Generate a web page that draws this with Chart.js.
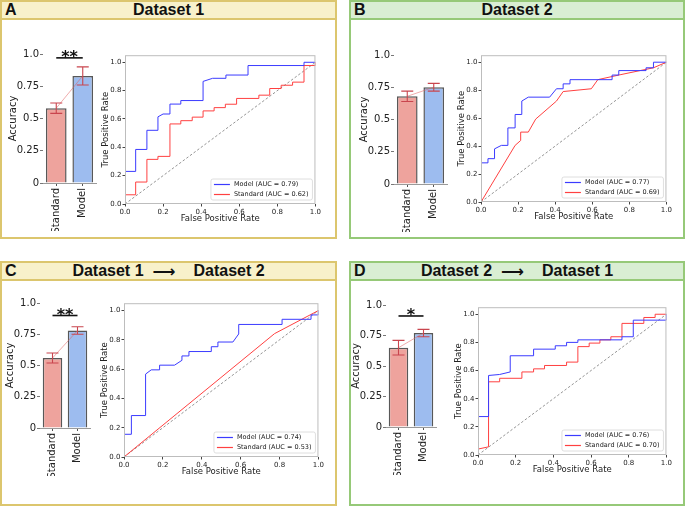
<!DOCTYPE html>
<html>
<head>
<meta charset="utf-8">
<script src="https://cdn.jsdelivr.net/npm/chart.js@4.4.0/dist/chart.umd.min.js"></script>
<style>
  body{margin:0;width:685px;height:508px;position:relative;background:#fff;overflow:hidden;font-family:"DejaVu Sans",sans-serif}
  .panel{position:absolute;box-sizing:border-box;border:2px solid}
  .yellow{border-color:#dcc66e}
  .yellow .head{background:#f8f1cb;border-bottom:2px solid #dcc66e}
  .green{border-color:#96c978}
  .green .head{background:#d9eed3;border-bottom:2px solid #96c978}
  .head{height:16px;position:relative;font:bold 16px "Liberation Sans",Arial,sans-serif;color:#111}
  .letter{position:absolute;left:3px;top:-1px;line-height:18px}
  .title{display:flex;justify-content:center;align-items:center;height:16px;line-height:16px}
  .arrow{font:bold 16px "DejaVu Sans",sans-serif;margin:0 18px 0 9px}
  canvas{position:absolute}
</style>
</head>
<body>
<div class="panel yellow" style="left:0;top:0;width:337px;height:239px">
  <div class="head"><span class="letter">A</span><div class="title">Dataset 1</div></div>
</div>
<div class="panel green" style="left:349px;top:0;width:336px;height:239px">
  <div class="head"><span class="letter">B</span><div class="title">Dataset 2</div></div>
</div>
<div class="panel yellow" style="left:0;top:261px;width:337px;height:245px">
  <div class="head"><span class="letter">C</span><div class="title"><span>Dataset 1</span><span class="arrow">⟶</span><span>Dataset 2</span></div></div>
</div>
<div class="panel green" style="left:349px;top:261px;width:336px;height:245px">
  <div class="head"><span class="letter">D</span><div class="title"><span>Dataset 2</span><span class="arrow">⟶</span><span>Dataset 1</span></div></div>
</div>

<script>
// Catégories et graduations
const categories = ['Standard', 'Model'];
const accTicks = [0, 0.25, 0.5, 0.75, 1.0];
const accTickLabels = ['0', '0.25', '0.5', '0.75', '1.0'];
const rocTicks = [0, 0.2, 0.4, 0.6, 0.8, 1.0];

// Précision (moyenne, bas et haut des barres d'erreur)
const accA = [0.58, 0.83], lowA = [0.54, 0.76], highA = [0.62, 0.90];
const accB = [0.68, 0.75], lowB = [0.64, 0.72], highB = [0.72, 0.78];
const accC = [0.56, 0.78], lowC = [0.52, 0.75], highC = [0.60, 0.81];
const accD = [0.65, 0.77], lowD = [0.59, 0.74], highD = [0.71, 0.80];

// AUC affichées dans les légendes
const aucA = ['0.79', '0.62'];
const aucB = ['0.77', '0.69'];
const aucC = ['0.74', '0.53'];
const aucD = ['0.76', '0.70'];

// Courbes ROC (coins des paliers)
const fprA_m = [0,0,0.056,0.056,0.115,0.115,0.173,0.173,0.2,0.236,0.236,0.293,0.293,0.41,0.41,0.46,0.53,0.53,0.646,0.646,0.94,0.94,1];
const tprA_m = [0,0.23,0.23,0.385,0.385,0.52,0.52,0.615,0.635,0.635,0.705,0.705,0.73,0.73,0.865,0.887,0.887,0.91,0.91,0.977,0.977,1,1];
const fprA_s = [0,0,0.056,0.056,0.115,0.115,0.173,0.173,0.236,0.236,0.293,0.293,0.353,0.353,0.41,0.41,0.468,0.468,0.527,0.527,0.586,0.586,0.703,0.703,0.76,0.76,0.82,0.82,0.88,0.88,0.94,0.94,1,1];
const tprA_s = [0,0.065,0.065,0.155,0.155,0.315,0.315,0.336,0.336,0.565,0.565,0.588,0.588,0.613,0.613,0.657,0.657,0.68,0.68,0.704,0.704,0.745,0.745,0.768,0.768,0.815,0.815,0.838,0.838,0.86,0.86,0.977,0.977,1];

const fprB_m = [0,0,0.0375,0.0375,0.073,0.073,0.11,0.145,0.145,0.184,0.184,0.22,0.22,0.255,0.37,0.407,0.443,0.443,0.48,0.48,0.707,0.707,0.743,0.743,0.89,0.89,0.93,0.93,1];
const tprB_m = [0,0.28,0.28,0.31,0.31,0.38,0.405,0.405,0.53,0.53,0.626,0.626,0.722,0.75,0.75,0.81,0.81,0.845,0.845,0.875,0.875,0.908,0.908,0.94,0.94,0.96,0.96,1,1];
const fprB_s = [0,0.184,0.214,0.214,0.255,0.295,0.407,0.443,0.595,0.63,0.75,0.93,1];
const tprB_s = [0,0.405,0.44,0.5,0.5,0.593,0.722,0.79,0.81,0.875,0.91,0.96,1];

const fprC_m = [0,0,0.038,0.038,0.111,0.111,0.14,0.183,0.183,0.26,0.298,0.298,0.334,0.334,0.449,0.449,0.483,0.483,0.56,0.59,0.59,0.813,0.813,0.962,0.962,1,1];
const tprC_m = [0,0.155,0.155,0.283,0.283,0.566,0.595,0.595,0.627,0.627,0.66,0.69,0.69,0.72,0.72,0.753,0.753,0.785,0.785,0.84,0.905,0.905,0.94,0.94,0.97,0.97,1];
const fprC_s = [0,0.774,1];
const tprC_s = [0,0.842,1];

const fprD_m = [0,0,0.056,0.056,0.115,0.171,0.171,0.295,0.295,0.41,0.41,0.47,0.47,0.53,0.53,0.764,0.764,0.824,0.824,1,1];
const tprD_m = [0,0.273,0.273,0.565,0.572,0.59,0.705,0.705,0.752,0.752,0.776,0.776,0.8,0.8,0.818,0.818,0.84,0.84,0.958,0.958,1];
const fprD_s = [0,0,0.056,0.056,0.115,0.115,0.233,0.233,0.295,0.295,0.353,0.353,0.47,0.47,0.53,0.53,0.59,0.59,0.647,0.647,0.705,0.705,0.764,0.764,0.88,0.88,0.94,0.94,1];
const tprD_s = [0,0.042,0.058,0.52,0.52,0.545,0.545,0.59,0.59,0.612,0.612,0.636,0.636,0.66,0.66,0.77,0.77,0.795,0.795,0.818,0.818,0.84,0.84,0.935,0.935,0.977,0.977,1,1];

const BLUE = '#3b3bff', RED = '#ff4040', SALMON = '#eea39d', SKY = '#9dbcef';
const TXT = '#222';

const toXY = (xs, ys) => xs.map((x, i) => ({x, y: ys[i]}));

function makeCanvas(left, top, w, h){
  const c = document.createElement('canvas');
  c.width = w; c.height = h;
  c.style.left = left + 'px'; c.style.top = top + 'px';
  c.style.width = w + 'px'; c.style.height = h + 'px';
  document.body.appendChild(c);
  return c;
}

// Cadre gris autour de la zone de tracé + légende en bas à droite
const rocDecor = {
  id: 'rocDecor',
  afterDatasetsDraw(chart){
    const {ctx, chartArea: a} = chart;
    ctx.save();
    ctx.strokeStyle = '#bdbdbd'; ctx.lineWidth = 1;
    ctx.strokeRect(a.left + 0.5, a.top + 0.5, a.right - a.left - 1, a.bottom - a.top - 1);
    const sets = chart.data.datasets.slice(0, 2);
    ctx.font = '6.5px "DejaVu Sans"';
    const tw = Math.max(...sets.map(d => ctx.measureText(d.label).width));
    const w = tw + 27, h = 21;
    const x = a.right - 3 - w, y = a.bottom - 4 - h;
    ctx.fillStyle = 'rgba(255,255,255,0.85)';
    ctx.strokeStyle = '#d6d6d6'; ctx.lineWidth = 0.8;
    ctx.beginPath(); ctx.roundRect(x, y, w, h, 2); ctx.fill(); ctx.stroke();
    ctx.textBaseline = 'middle';
    sets.forEach((d, i) => {
      const cy = y + 5.5 + i * 10;
      ctx.strokeStyle = d.borderColor; ctx.lineWidth = 1.2;
      ctx.beginPath(); ctx.moveTo(x + 3, cy); ctx.lineTo(x + 19, cy); ctx.stroke();
      ctx.fillStyle = TXT;
      ctx.fillText(d.label, x + 23, cy);
    });
    ctx.restore();
  }
};

function rocChart(area, fm, tm, fs, ts, auc){
  const [L, T, R, B] = area;
  const YW = 25, XH = 20, PT = 3, PR = 6;
  const cv = makeCanvas(L - YW, T - PT, R - L + YW + PR, B - T + PT + XH);
  const axis = (title, max) => ({
    type: 'linear', min: 0, max,
    afterBuildTicks: s => { s.ticks = rocTicks.map(v => ({value: v})); },
    ticks: {callback: v => v.toFixed(1), font: {size: 7, family: 'DejaVu Sans'}, color: TXT, padding: 1, maxRotation: 0, autoSkip: false},
    grid: {drawOnChartArea: false, tickLength: 2.5, color: '#444'},
    border: {display: false},
    title: {display: true, text: title, font: {size: 8.5, family: 'DejaVu Sans'}, color: TXT, padding: {top: 1, bottom: 0}}
  });
  const x = axis('False Positive Rate', 1), y = axis('True Positive Rate', 1.05);
  x.afterFit = s => { s.height = XH; };
  y.afterFit = s => { s.width = YW; };
  new Chart(cv, {
    type: 'scatter',
    data: {datasets: [
      {label: `Model (AUC = ${auc[0]})`, data: toXY(fm, tm), borderColor: BLUE, borderWidth: 1, showLine: true},
      {label: `Standard (AUC = ${auc[1]})`, data: toXY(fs, ts), borderColor: RED, borderWidth: 1, showLine: true},
      {label: 'chance', data: toXY([0, 1], [0, 1]), borderColor: '#7a7a7a', borderWidth: 0.8, borderDash: [2.5, 2], showLine: true}
    ]},
    options: {
      responsive: false, animation: false,
      layout: {padding: {top: PT, right: PR, left: 0, bottom: 0}},
      elements: {point: {radius: 0}, line: {tension: 0}},
      plugins: {legend: {display: false}, tooltip: {enabled: false}},
      scales: {x, y}
    },
    plugins: [rocDecor]
  });
}

// Barres d'erreur + accolade de significativité
const accDecor = {
  id: 'accDecor',
  afterDatasetsDraw(chart, args, opts){
    const {ctx} = chart;
    const ys = chart.scales.y;
    const bars = chart.getDatasetMeta(1).data;
    ctx.save();
    ctx.strokeStyle = '#c9454e'; ctx.lineWidth = 1.1;
    bars.forEach((b, i) => {
      const lo = ys.getPixelForValue(opts.low[i]), hi = ys.getPixelForValue(opts.high[i]);
      ctx.beginPath();
      ctx.moveTo(b.x, lo); ctx.lineTo(b.x, hi);
      ctx.moveTo(b.x - 6, lo); ctx.lineTo(b.x + 6, lo);
      ctx.moveTo(b.x - 6, hi); ctx.lineTo(b.x + 6, hi);
      ctx.stroke();
    });
    if (opts.stars){
      const yy = ys.getPixelForValue(opts.sigY);
      ctx.strokeStyle = '#111'; ctx.lineWidth = 1.6;
      ctx.beginPath(); ctx.moveTo(bars[0].x, yy); ctx.lineTo(bars[1].x, yy); ctx.stroke();
      ctx.fillStyle = '#111';
      ctx.font = 'bold 16px "DejaVu Sans"';
      ctx.textAlign = 'center'; ctx.textBaseline = 'alphabetic';
      ctx.fillText(opts.stars, (bars[0].x + bars[1].x) / 2, yy + 4.5);
    }
    ctx.restore();
  }
};

function accChart(area, means, low, high, sigY, stars){
  const [L, T, R, B] = area;
  const YW = 42, XH = 48, PT = 16, PR = 6;
  const cv = makeCanvas(L - YW, T - PT, R - L + YW + PR, B - T + PT + XH);
  new Chart(cv, {
    type: 'bar',
    data: {labels: categories, datasets: [
      {type: 'line', data: means, borderColor: 'rgba(225,95,95,0.65)', borderWidth: 0.8, pointRadius: 0, order: 0},
      {data: means, backgroundColor: [SALMON, SKY], borderColor: '#585858', borderWidth: 1.5,
       barPercentage: 0.78, categoryPercentage: 1, order: 1}
    ]},
    options: {
      responsive: false, animation: false,
      layout: {padding: {top: PT, right: PR, left: 0, bottom: 0}},
      plugins: {legend: {display: false}, tooltip: {enabled: false},
        accDecor: {low, high, sigY, stars}},
      scales: {
        x: {
          afterFit: s => { s.height = XH; },
          ticks: {minRotation: 90, maxRotation: 90, autoSkip: false, font: {size: 10, family: 'DejaVu Sans'}, color: TXT, padding: 2},
          grid: {offset: false, drawOnChartArea: false, tickLength: 3, color: '#555'},
          border: {display: true, color: '#9a9a9a', width: 1}
        },
        y: {
          min: 0, max: 1,
          afterFit: s => { s.width = YW; },
          afterBuildTicks: s => { s.ticks = accTicks.map(v => ({value: v})); },
          ticks: {callback: (v, i) => accTickLabels[i], font: {size: 10, family: 'DejaVu Sans'}, color: TXT, padding: 1},
          grid: {drawOnChartArea: false, tickLength: 3, color: '#777'},
          border: {display: false},
          title: {display: true, text: 'Accuracy', font: {size: 10, family: 'DejaVu Sans'}, color: TXT, padding: {top: 6, bottom: 0}}
        }
      }
    },
    plugins: [accDecor]
  });
}

accChart([43, 54, 96, 183], accA, lowA, highA, 0.97, '**');
rocChart([125, 53, 316, 204], fprA_m, tprA_m, fprA_s, tprA_s, aucA);

accChart([394, 55, 447, 184], accB, lowB, highB, 0, '');
rocChart([481, 53, 667, 202], fprB_m, tprB_m, fprB_s, tprB_s, aucB);

accChart([40, 303, 90, 428], accC, lowC, highC, 0.90, '**');
rocChart([124, 301, 319, 457], fprC_m, tprC_m, fprC_s, tprC_s, aucC);

accChart([386, 305, 436, 427], accD, lowD, highD, 0.91, '*');
rocChart([478, 305, 667, 455], fprD_m, tprD_m, fprD_s, tprD_s, aucD);
</script>
</body>
</html>
